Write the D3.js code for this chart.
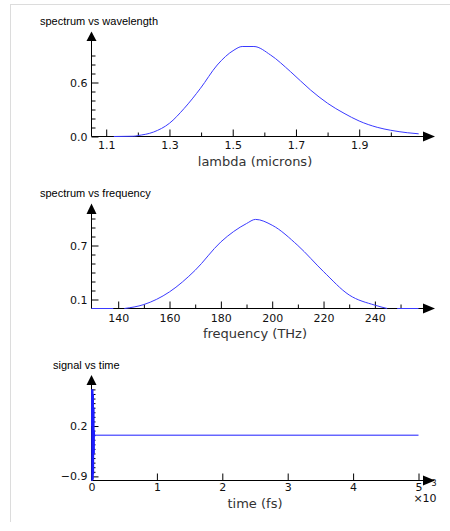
<!DOCTYPE html>
<html>
<head>
<meta charset="utf-8">
<script src="https://cdn.jsdelivr.net/npm/d3@7"></script>
<style>
body{margin:0;background:#fff}
svg{display:block}
text{font-family:"DejaVu Sans",Verdana,sans-serif}
</style>
</head>
<body>
<svg id="chart" width="450" height="531"></svg>
<script>
//Values
var lambdaMicrons = [1.124, 1.187, 1.2, 1.25, 1.3, 1.346, 1.398, 1.451, 1.504, 1.53, 1.567, 1.62, 1.683, 1.746, 1.80, 1.852, 1.90, 1.957, 2.0, 2.052, 2.088];
var spectrumLambda = [0, 0.003, 0.01, 0.05, 0.147, 0.31, 0.535, 0.794, 0.96, 1.0, 1.0, 0.905, 0.72, 0.517, 0.369, 0.258, 0.172, 0.102, 0.069, 0.042, 0.03];

var freqTHz = [129.6, 138.1, 140, 142.4, 150, 160, 170, 180, 190, 193.5, 200, 210, 220, 230, 240, 244.8, 247, 248.7, 257.0];
var spectrumFreq = [0, 0, null, 0, 0.044, 0.185, 0.425, 0.74, 0.944, 0.99, 0.925, 0.70, 0.41, 0.15, 0.037, 0, null, 0, 0];

var timeFs = [0, 4, 8, 12, 16, 20, 24, 28, 32, 36, 40, 44, 48, 5000];
var signal = [0.2, 1.0, -1.0, 0.95, -0.98, 1.0, -0.97, 0.9, -0.85, 0.6, -0.4, 0.1, 0, 0];

//Tick labels
var lambdaMajor = [1.1, 1.3, 1.5, 1.7, 1.9], lambdaMinor = [1.2, 1.4, 1.6, 1.8, 2.0];
var specLMajor = [0.0, 0.6], specLMinor = [0.1, 0.2, 0.3, 0.4, 0.5, 0.7, 0.8, 0.9];
var freqMajor = [140, 160, 180, 200, 220, 240], freqMinor = [150, 170, 190, 210, 230, 250];
var specFMajor = [0.1, 0.7], specFMinor = [0.2, 0.3, 0.4, 0.5, 0.6, 0.8, 0.9, 1.0];
var timeMajor = [0, 1000, 2000, 3000, 4000, 5000], timeMinor = [];
var sigMajor = [-0.9, 0.2], sigMinor = [-0.8, -0.7, -0.6, -0.5, -0.4, -0.3, -0.2, -0.1, 0.0, 0.1, 0.3, 0.4, 0.5, 0.6, 0.7, 0.8, 0.9, 1.0];

var svg = d3.select("#chart");

//frame
svg.append("line").attr("x1", 10).attr("x2", 450).attr("y1", 4.5).attr("y2", 4.5).attr("stroke", "#dcdcdc");
svg.append("line").attr("x1", 10.5).attr("x2", 10.5).attr("y1", 4).attr("y2", 522).attr("stroke", "#dcdcdc");

function drawPanel(cfg) {
    var x = d3.scaleLinear().domain(cfg.xDomain).range([91.5, 418.5]);
    var y = d3.scaleLinear().domain(cfg.yDomain).range(cfg.yRange);
    var y0 = cfg.yRange[0];
    var g = svg.append("g");

    //minor ticks
    g.append("g").attr("transform", "translate(0," + y0 + ")")
        .call(d3.axisBottom(x).tickValues(cfg.xMinor).tickSizeInner(-4).tickSizeOuter(0).tickFormat(""));
    g.append("g").attr("transform", "translate(91.5,0)")
        .call(d3.axisLeft(y).tickValues(cfg.yMinor).tickSizeInner(-4).tickSizeOuter(0).tickFormat(""));

    //major ticks with labels
    g.append("g").attr("transform", "translate(0," + y0 + ")")
        .call(d3.axisBottom(x).tickValues(cfg.xMajor).tickSizeInner(-7).tickSizeOuter(0)
            .tickPadding(cfg.xPad).tickFormat(cfg.xFormat));
    g.append("g").attr("transform", "translate(91.5,0)")
        .call(d3.axisLeft(y).tickValues(cfg.yMajor).tickSizeInner(-7).tickSizeOuter(0)
            .tickPadding(4).tickFormat(d3.format(".1f")));
    g.selectAll(".domain").remove();
    g.selectAll(".tick line").attr("stroke", "#000");
    g.selectAll(".tick text").attr("fill", "#111").style("font-size", "11px")
        .style("font-family", "'DejaVu Sans',Verdana,sans-serif");

    //axis lines and arrows
    g.append("line").attr("x1", 91.5).attr("x2", 424).attr("y1", y0).attr("y2", y0).attr("stroke", "#000");
    g.append("line").attr("x1", 91.5).attr("x2", 91.5).attr("y1", y0).attr("y2", cfg.arrowBase).attr("stroke", "#000");
    g.append("path").attr("d", "M423," + (y0 - 5) + "L435," + y0 + "L423," + (y0 + 5) + "Z").attr("fill", "#000");
    g.append("path").attr("d", "M86.5," + cfg.arrowBase + "L91.5," + cfg.arrowTip + "L96.5," + cfg.arrowBase + "Z").attr("fill", "#000");

    //the curve
    var pts = cfg.xs.map(function(d, i) { return [d, cfg.ys[i]]; });
    var line = d3.line()
        .defined(function(d) { return d[1] !== null; })
        .x(function(d) { return x(d[0]); })
        .y(function(d) { return y(d[1]); })
        .curve(cfg.curve);
    g.append("path").datum(pts).attr("d", line)
        .attr("fill", "none").attr("stroke", cfg.colour).attr("stroke-width", 1);

    //title and axis label
    svg.append("text").attr("x", cfg.titleX).attr("y", cfg.titleY).text(cfg.title)
        .style("font-family", "'Liberation Sans',Arial,sans-serif")
        .style("font-size", "11px").attr("fill", "#000");
    svg.append("text").attr("x", 255).attr("y", cfg.labelY).attr("text-anchor", "middle")
        .text(cfg.label).style("font-size", "13px").attr("fill", "#333");
    return g;
}

drawPanel({
    xDomain: [1.0535, 2.0875], yDomain: [0, 1], yRange: [136.5, 46.5],
    xMajor: lambdaMajor, xMinor: lambdaMinor, yMajor: specLMajor, yMinor: specLMinor,
    xFormat: d3.format(".1f"), xPad: 5, arrowTip: 31.5, arrowBase: 41,
    xs: lambdaMicrons, ys: spectrumLambda, curve: d3.curveMonotoneX, colour: "#3a3aff",
    title: "spectrum vs wavelength", titleX: 40, titleY: 25,
    label: "lambda (microns)", labelY: 166
});

drawPanel({
    xDomain: [129.6, 257.0], yDomain: [0, 1], yRange: [308.5, 218.5],
    xMajor: freqMajor, xMinor: freqMinor, yMajor: specFMajor, yMinor: specFMinor,
    xFormat: d3.format("d"), xPad: 5.5, arrowTip: 203.5, arrowBase: 214,
    xs: freqTHz, ys: spectrumFreq, curve: d3.curveMonotoneX, colour: "#3a3aff",
    title: "spectrum vs frequency", titleX: 40, titleY: 197,
    label: "frequency (THz)", labelY: 337.5
});

drawPanel({
    xDomain: [0, 5000], yDomain: [-0.99, 1.0], yRange: [480.5, 389.4],
    xMajor: timeMajor, xMinor: timeMinor, yMajor: sigMajor, yMinor: sigMinor,
    xFormat: function(d) { return d / 1000; }, xPad: 2.5, arrowTip: 375, arrowBase: 385,
    xs: timeFs, ys: signal, curve: d3.curveLinear, colour: "#1c1cff",
    title: "signal vs time", titleX: 53, titleY: 369,
    label: "time (fs)", labelY: 507.5
});

//exponent for the time axis
svg.append("text").attr("x", 434).attr("y", 486).attr("text-anchor", "middle")
    .text("3").style("font-size", "8px").attr("fill", "#111");
svg.append("text").attr("x", 425).attr("y", 502).attr("text-anchor", "middle")
    .text("\u00d710").style("font-size", "11px").attr("fill", "#111");
</script>
</body>
</html>
